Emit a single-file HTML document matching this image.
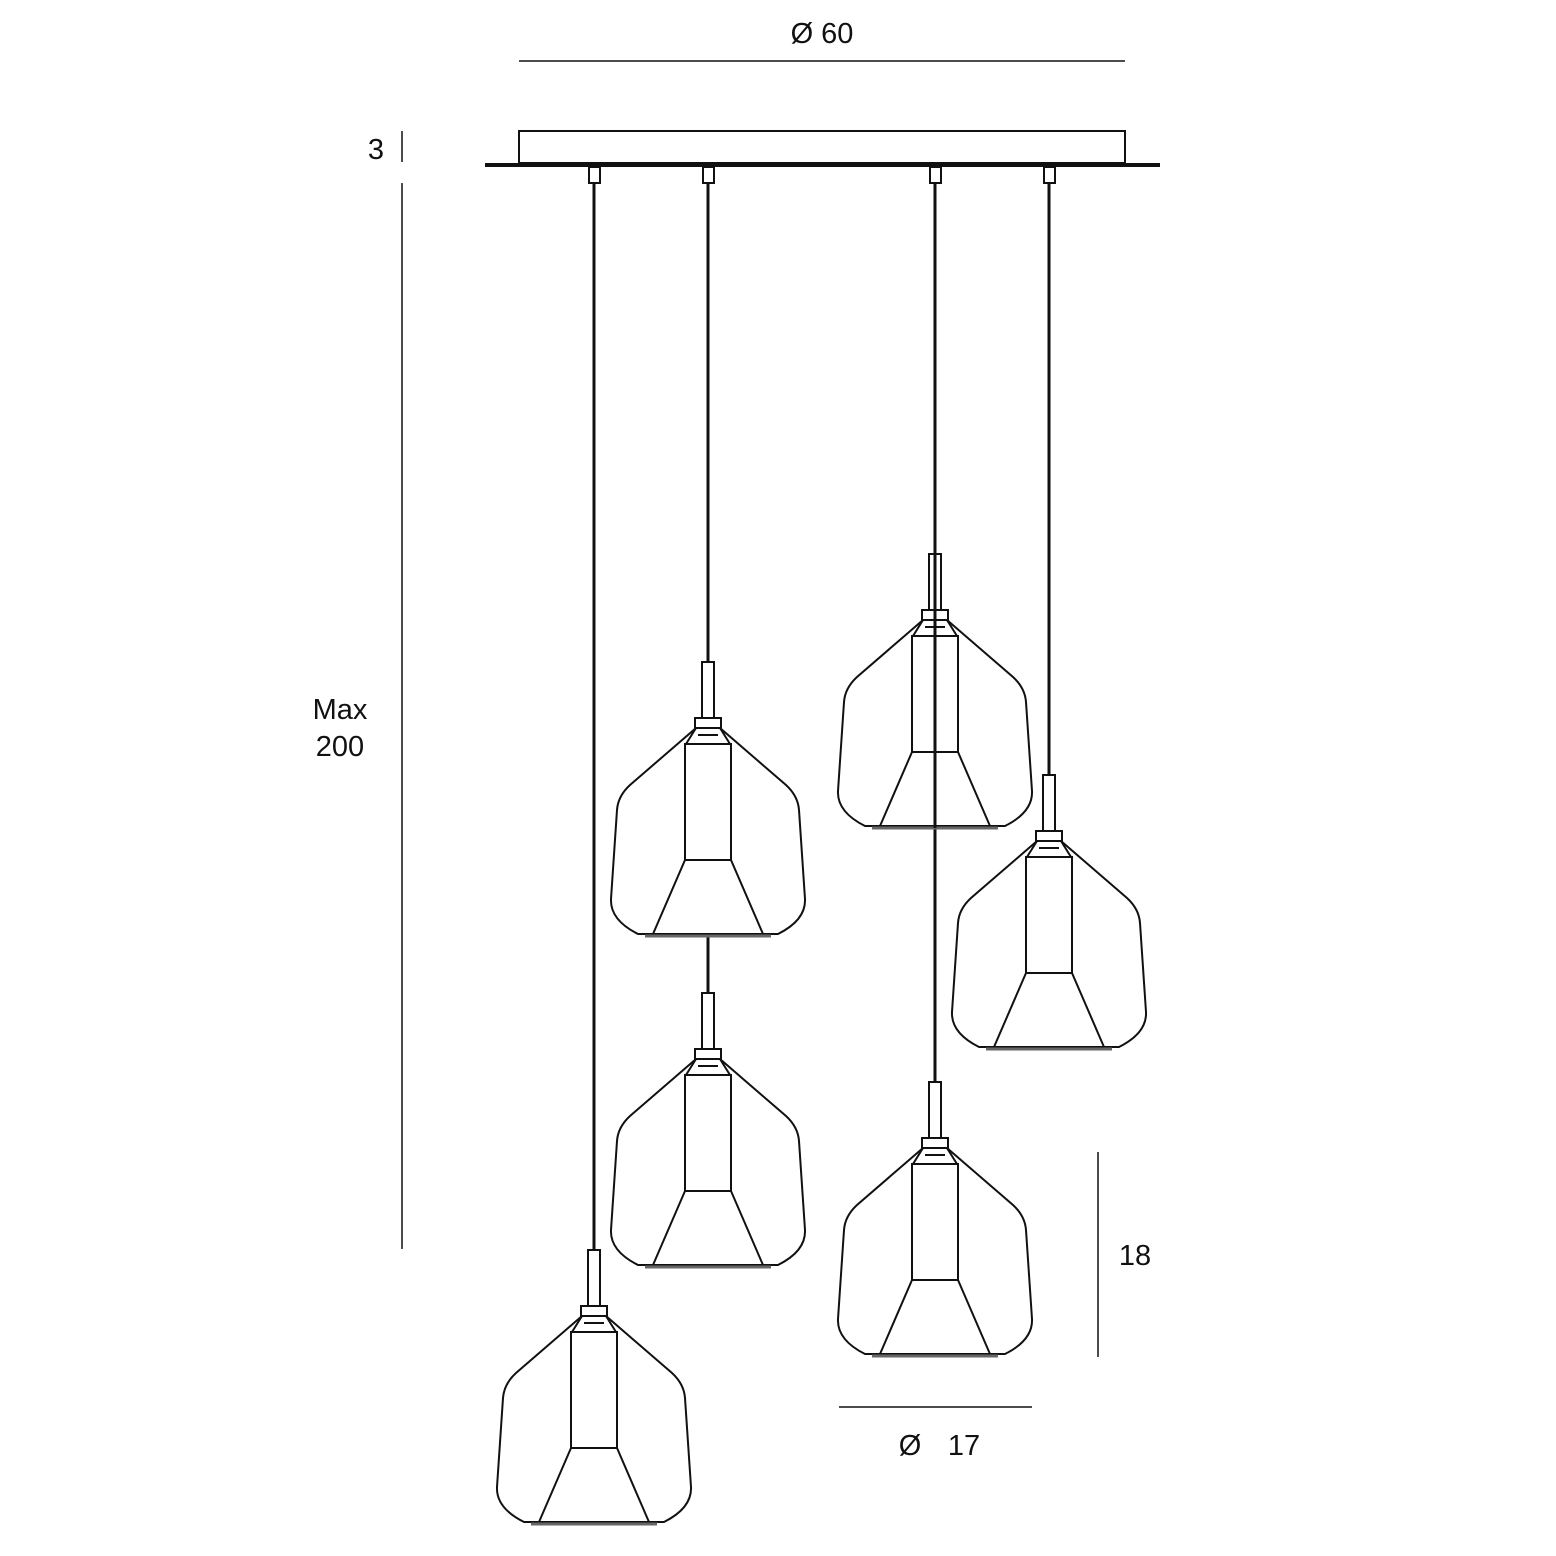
<!DOCTYPE html>
<html><head><meta charset="utf-8"><style>
html,body{margin:0;padding:0;background:#fff;}
svg{display:block;}
text{font-family:"Liberation Sans",sans-serif;font-size:29px;fill:#111;}
</style></head><body>
<svg width="1556" height="1556" viewBox="0 0 1556 1556" xmlns="http://www.w3.org/2000/svg">
<defs>
<g id="p" fill="none" stroke="#111" stroke-width="2">
  <rect x="-6" y="0" width="12" height="56" fill="#fff"/>
  <rect x="-13" y="56" width="26" height="10" fill="#fff"/>
  <path d="M-12,66 L-22,82 M12,66 L22,82 M-10,73 L10,73"/>
  <rect x="-23" y="82" width="46" height="116"/>
  <path d="M-23,198 L-55,272 M23,198 L55,272"/>
  <path d="M-12,66 L-78,123 Q-90,134 -91,148 L-97,237 Q-98,258 -70,272 L70,272 Q98,258 97,237 L91,148 Q90,134 78,123 L12,66"/>
  <line x1="-63" y1="274" x2="63" y2="274" stroke="#666" stroke-width="3"/>
</g>
</defs>
<g stroke="#111" fill="none">
  <line x1="519" y1="61" x2="1125" y2="61" stroke-width="1.5"/>
  <rect x="519" y="131" width="606" height="32" stroke-width="2"/>
  <line x1="485" y1="165" x2="1160" y2="165" stroke-width="4"/>
  <line x1="402" y1="131" x2="402" y2="162" stroke-width="1.5"/>
  <line x1="402" y1="183" x2="402" y2="1249" stroke-width="1.5"/>
  <line x1="1098" y1="1152" x2="1098" y2="1357" stroke-width="1.5"/>
  <line x1="839" y1="1407" x2="1032" y2="1407" stroke-width="1.5"/>
  <g stroke-width="3">
    <line x1="594" y1="183" x2="594" y2="1250"/>
    <line x1="708" y1="183" x2="708" y2="662"/>
    <line x1="708" y1="936" x2="708" y2="993"/>
    <line x1="935" y1="183" x2="935" y2="1082"/>
    <line x1="1049" y1="183" x2="1049" y2="775"/>
  </g>
  <g stroke-width="2" fill="#fff">
    <rect x="589" y="167" width="11" height="16"/>
    <rect x="703" y="167" width="11" height="16"/>
    <rect x="930" y="167" width="11" height="16"/>
    <rect x="1044" y="167" width="11" height="16"/>
  </g>
</g>
<use href="#p" x="594" y="1250"/>
<use href="#p" x="708" y="662"/>
<use href="#p" x="708" y="993"/>
<use href="#p" x="935" y="554"/>
<use href="#p" x="1049" y="775"/>
<use href="#p" x="935" y="1082"/>
<line x1="935" y1="554" x2="935" y2="828" stroke="#111" stroke-width="3"/>
<text x="822" y="43" text-anchor="middle">Ø 60</text>
<text x="376" y="159" text-anchor="middle">3</text>
<text x="340" y="719" text-anchor="middle">Max</text>
<text x="340" y="756" text-anchor="middle">200</text>
<text x="1135" y="1265" text-anchor="middle">18</text>
<text x="910" y="1455" text-anchor="middle">Ø</text>
<text x="964" y="1455" text-anchor="middle">17</text>
</svg>
</body></html>
